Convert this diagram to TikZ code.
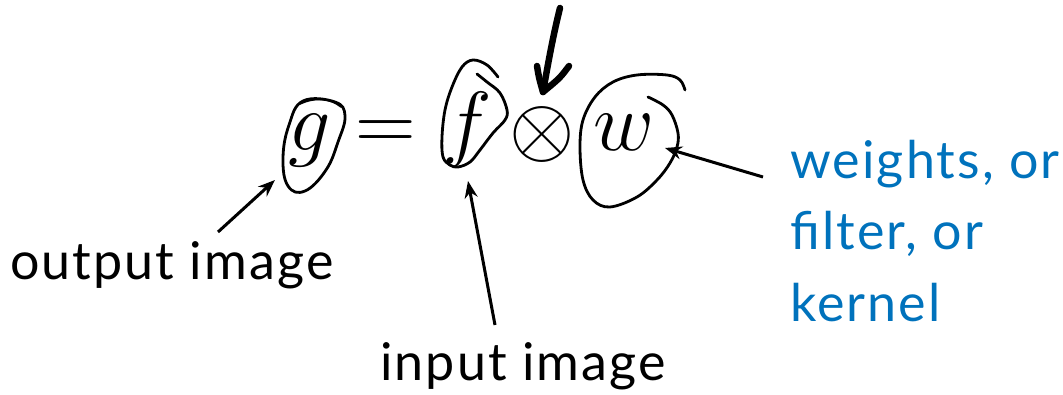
\RequirePackage{fix-cm}
\documentclass[tikz,border=0pt]{standalone}
\usepackage[no-math]{fontspec}
\setmainfont{Lato}[LetterSpace=4.0]
\usetikzlibrary{arrows.meta}
\definecolor{kblue}{RGB}{0,114,188}
\begin{document}
\begin{tikzpicture}[x=1pt,y=-1pt,
  glyph/.style={inner sep=0pt, anchor=base, font=\fontsize{84}{84}\selectfont},
  lbl/.style={inner sep=0pt, anchor=base west, font=\fontsize{52}{60}\selectfont},
  callout/.style={line width=3pt, -{Stealth[length=17pt,width=13pt]}},
  loopline/.style={line width=2.8pt, line cap=round, line join=round},
  boldpen/.style={line width=6.5pt, line cap=round, line join=round}
  ]
\useasboundingbox (0,0) rectangle (1063,395);
% formula
\node[glyph] (g) at (310,151) {$g$};
\node[glyph] (eq) at (386,151) {$=$};
\node[glyph] (f) at (467,151) {$f$};
\node[glyph, anchor=center] (ox) at (542,135) {$\otimes$};
\node[glyph] (w) at (624,151) {$w$};
% hand-drawn loops
\draw[loopline] plot[smooth cycle, tension=0.7] coordinates {(303,101) (335,102) (345,116) (338,142) (326,170) (305,191) (288,186) (283,158) (289,125)};
\draw[loopline, line width=1.6pt] (300,104) .. controls (315,97) and (330,98) .. (341,107);
\draw[loopline] plot[smooth, tension=0.6] coordinates {(498,77) (487,65) (473,60) (462,67) (452,87) (445,110) (442,137) (443,157) (450,165) (458,167) (470,162) (480,150) (493,133) (505,120) (507,110) (500,93) (487,82) (477,74)};
\draw[loopline] plot[smooth, tension=0.6] coordinates {(685,90) (680,80) (667,75) (637,75) (613,82) (595,97) (583,120) (580,147) (583,180) (593,200) (610,207) (637,197) (657,180) (670,163) (677,147) (678,133) (672,115) (663,105) (648,97)};
% bold arrow
\coordinate (btop) at (557,25);
\coordinate (bhook) at (560,8);
\coordinate (btip) at (543,92);
\coordinate (bleft) at (537,66);
\coordinate (bright) at (569,66);
\draw[boldpen, line width=3pt] (btop) -- (bhook);
\draw[boldpen] (bhook) .. controls (552,40) and (547,70) .. (btip);
\draw[boldpen] (bleft) .. controls (539,78) .. (btip);
\draw[boldpen] (bright) .. controls (560,78) .. (btip);
% labels
\node[lbl] (outlbl) at (10,280) {output image};
\node[lbl] (inlbl) at (380,380) {input image};
\node[lbl, text=kblue] (w1) at (790,179) {weights, or};
\node[lbl, text=kblue] (w2) at (790,250) {filter, or};
\node[lbl, text=kblue] (w3) at (790,322) {kernel};
% callouts
\coordinate (outtail) at (218,232);
\coordinate (outhead) at (275,180);
\coordinate (intail) at (495,325);
\coordinate (inhead) at (468,181);
\coordinate (wtail) at (763,177);
\coordinate (whead) at (665,148);
\draw[callout] (outtail) -- (outhead);
\draw[callout] (intail) -- (inhead);
\draw[callout] (wtail) -- (whead);
\end{tikzpicture}
\end{document}
